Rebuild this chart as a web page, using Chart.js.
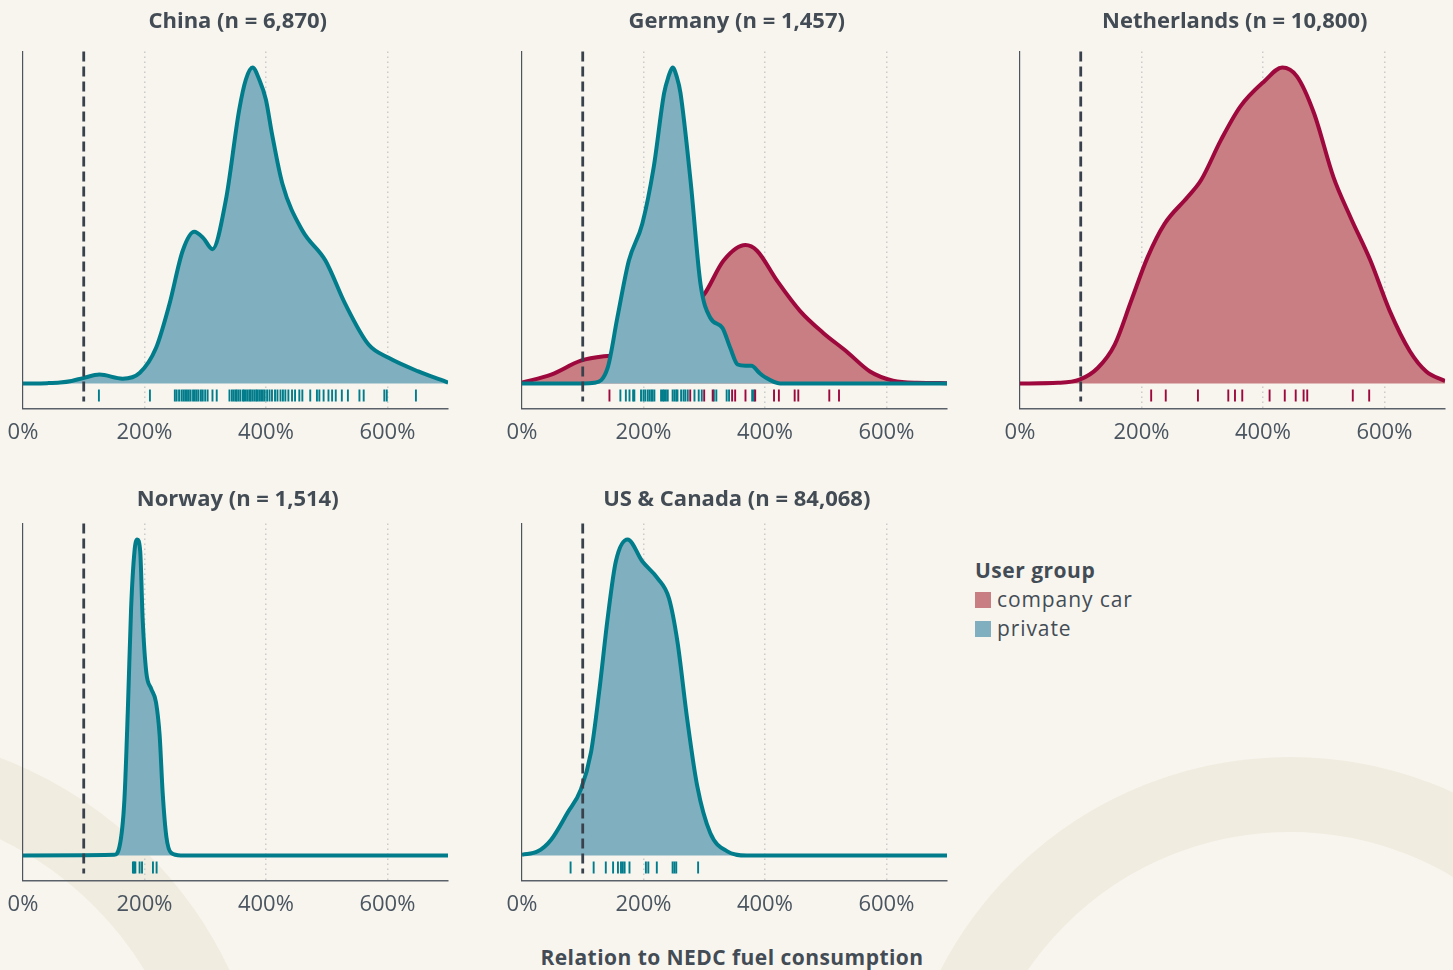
<!DOCTYPE html>
<html>
<head>
<meta charset="utf-8">
<script src="https://cdn.jsdelivr.net/npm/chart.js@4.4.1/dist/chart.umd.min.js"></script>
<style>
  body { margin: 0; width: 1453px; height: 970px; background: #f8f5ef; position: relative; overflow: hidden;
         font-family: "Open Sans", sans-serif; color: #434c55; }
  .ring { position: absolute; border-radius: 50%; border-style: solid; border-color: #f1ece0; box-sizing: border-box; }
  canvas { position: absolute; }
  #axisTitle { position: absolute; left: 432px; width: 600px; top: 943px; text-align: center; font-weight: 700; font-size: 21px; letter-spacing: 0.45px; line-height: 28px; }
  #legend { position: absolute; left: 975px; top: 555px; font-size: 21px; letter-spacing: 0.9px; line-height: 29px; }
  #legend .head { font-weight: 700; letter-spacing: 0.5px; line-height: 30px; }
  #legend .item { display: flex; align-items: center; }
  #legend .sw { width: 16px; height: 16px; margin-right: 6px; }
</style>
</head>
<body>
<div class="ring" style="left:897px; top:757px; width:786px; height:786px; border-width:75px;"></div>
<div class="ring" style="left:-570px; top:730px; width:840px; height:840px; border-width:75px;"></div>

<canvas id="china" width="456" height="460" style="left:0px; top:0px"></canvas>
<canvas id="germany" width="456" height="460" style="left:499px; top:0px"></canvas>
<canvas id="netherlands" width="456" height="460" style="left:997px; top:0px"></canvas>
<canvas id="norway" width="456" height="460" style="left:0px; top:472px"></canvas>
<canvas id="usca" width="456" height="460" style="left:499px; top:472px"></canvas>

<div id="legend">
  <div class="head">User group</div>
  <div class="item"><span class="sw" style="background:#c87e82"></span>company car</div>
  <div class="item"><span class="sw" style="background:#80b0bf"></span>private</div>
</div>
<div id="axisTitle">Relation to NEDC fuel consumption</div>

<script>
// x axis: relation to NEDC consumption in %
const xTicks = [0, 200, 400, 600];
const xMax = 700;
const nedcRef = 100;

// densities, scaled so each panel's highest peak = 1
const chinaX = [0, 40, 61, 80, 99, 126, 164, 192, 219, 241, 263, 282, 297, 312, 334, 356, 367, 378, 389, 400, 410, 427, 460, 498, 531, 569, 602, 651, 700];
const chinaPrivate = [0, 0.001, 0.003, 0.008, 0.017, 0.028, 0.015, 0.033, 0.112, 0.25, 0.42, 0.48, 0.46, 0.425, 0.58, 0.866, 0.962, 1.0, 0.962, 0.898, 0.79, 0.633, 0.484, 0.389, 0.25, 0.123, 0.081, 0.038, 0.003];

const germanyPrivX = [0, 100, 119, 141, 157, 176, 198, 217, 234, 241, 248, 255, 261, 278, 294, 310, 330, 343, 355, 368, 378, 390, 400, 425, 700];
const germanyPrivate = [0, 0, 0.002, 0.049, 0.208, 0.389, 0.505, 0.686, 0.919, 0.97, 1.0, 0.97, 0.919, 0.633, 0.314, 0.208, 0.176, 0.112, 0.06, 0.056, 0.056, 0.035, 0.02, 0, 0];
const germanyCompX = [0, 48, 97, 135, 165, 200, 240, 270, 288, 300, 332, 368, 387, 420, 458, 496, 534, 573, 611, 650, 700];
const germanyCompany = [0.003, 0.028, 0.072, 0.086, 0.09, 0.11, 0.16, 0.22, 0.26, 0.282, 0.389, 0.438, 0.42, 0.325, 0.229, 0.16, 0.102, 0.038, 0.009, 0.002, 0.001];

const netherlandsX = [0, 63, 98, 128, 156, 183, 210, 238, 276, 298, 331, 363, 402, 432, 456, 484, 516, 544, 577, 609, 642, 669, 700];
const netherlandsCompany = [0, 0.002, 0.012, 0.049, 0.123, 0.261, 0.399, 0.505, 0.59, 0.643, 0.771, 0.877, 0.956, 1.0, 0.972, 0.856, 0.654, 0.527, 0.389, 0.229, 0.102, 0.038, 0.008];

const norwayX = [0, 150, 159, 167, 172.7, 178, 183.6, 188, 193, 197, 203, 211, 219, 225, 230, 236, 244, 260, 700];
const norwayPrivate = [0, 0.002, 0.029, 0.177, 0.464, 0.782, 0.963, 1.0, 0.963, 0.75, 0.58, 0.528, 0.485, 0.38, 0.198, 0.06, 0.008, 0, 0];

const uscaX = [0, 26, 48, 75, 97, 113.6, 127, 141, 154.6, 174, 198, 223, 242, 256, 272, 288.5, 310, 338, 370, 700];
const uscaPrivate = [0.002, 0.013, 0.05, 0.135, 0.209, 0.326, 0.517, 0.75, 0.931, 1.0, 0.931, 0.878, 0.814, 0.676, 0.432, 0.22, 0.071, 0.013, 0, 0];

// rug marks (individual vehicles)
const chinaRug = [125, 209, 250, 253, 257, 261, 264, 267, 270, 273, 276, 280, 283, 286, 289, 293, 296, 300, 304, 312, 319,
  340, 344, 347, 350, 352, 355, 358, 362, 364, 367, 370, 373, 375, 378, 381, 384, 386, 389, 392, 395, 398, 402, 406, 410,
  415, 419, 424, 428, 432, 437, 443, 448, 455, 460, 473, 484, 488, 495, 503, 509, 515, 525, 535, 554, 561, 595, 599, 647];
const germanyRugPrivate = [162, 171, 177, 183, 185, 196, 200, 203, 207, 210, 213, 215, 218, 229, 232, 234, 237, 240, 248, 251,
  254, 256, 262, 266, 269, 273, 284, 291, 296, 316, 320, 337, 341, 379, 382];
const germanyRugCompany = [144, 277, 300, 314, 346, 351, 368, 384, 415, 423, 449, 455, 506, 522];
const netherlandsRug = [216, 240, 293, 343, 354, 366, 411, 436, 454, 467, 473, 548, 575];
const norwayRug = [181, 183, 185, 192, 196, 214, 220];
const uscaRug = [80, 118, 138, 150, 158, 163, 166, 169, 177, 204, 208, 222, 248, 251, 254, 290];

const groups = {
  private: { line: '#007c8b', fill: '#80b0bf' },
  company: { line: '#9d093d', fill: '#c87e82' }
};

const yMin = -0.0796, yMax = 1.051;
const rugY = -0.038;
const nedcBottom = -0.057;

function density(xs, ys, group, order) {
  return {
    data: xs.map((x, i) => ({ x: x, y: ys[i] })),
    borderColor: groups[group].line,
    backgroundColor: groups[group].fill,
    borderWidth: 4,
    fill: 'origin',
    pointRadius: 0,
    cubicInterpolationMode: 'monotone',
    order: order
  };
}

function rug(values, group) {
  return {
    data: values.map(v => ({ x: v, y: rugY })),
    showLine: false,
    pointStyle: 'line',
    rotation: 90,
    pointRadius: 6,
    pointBorderWidth: 1.9,
    pointBorderColor: groups[group].line,
    pointBackgroundColor: groups[group].line,
    borderColor: groups[group].line,
    order: 0
  };
}

const nedcPlugin = {
  id: 'nedc',
  afterDatasetsDraw(chart) {
    const { ctx, chartArea, scales } = chart;
    const px = scales.x.getPixelForValue(nedcRef);
    ctx.save();
    ctx.strokeStyle = '#39424c';
    ctx.lineWidth = 2.8;
    ctx.setLineDash([10, 5]);
    ctx.beginPath();
    ctx.moveTo(px, chartArea.top);
    ctx.lineTo(px, scales.y.getPixelForValue(nedcBottom));
    ctx.stroke();
    ctx.restore();
  }
};

function makePanel(id, title, datasets, row) {
  const titlePad = row === 1 ? { top: 9, bottom: 16 } : { top: 15, bottom: 10 };
  const canvas = document.getElementById(id);
  canvas.getContext('2d').letterSpacing = '0.6px';
  new Chart(canvas, {
    type: 'line',
    data: { datasets: datasets },
    plugins: [nedcPlugin],
    options: {
      responsive: false,
      animation: false,
      layout: { padding: { left: 23, right: 3.5, top: 0, bottom: 3 } },
      plugins: {
        legend: { display: false },
        tooltip: { enabled: false },
        title: {
          display: true,
          text: title,
          color: '#434c55',
          font: { family: 'Open Sans', size: 22, weight: 'bold', lineHeight: 1.2 },
          padding: titlePad
        }
      },
      scales: {
        x: {
          type: 'linear',
          min: 0,
          max: xMax,
          afterBuildTicks: axis => { axis.ticks = xTicks.map(v => ({ value: v })); },
          // the "0%" label may hang over the left edge; keep the plot area where the layout puts it
          afterFit: axis => { axis.paddingLeft = 0; axis.paddingRight = 0; },
          ticks: {
            callback: v => v + '%',
            color: '#4a5560',
            padding: 11,
            maxRotation: 0,
            font: { family: 'Open Sans', size: 22, lineHeight: 1.2 }
          },
          grid: {
            drawTicks: false,
            lineWidth: 1.5,
            color: c => (c.tick && c.tick.value === 0) ? 'rgba(0,0,0,0)' : '#cbcbcb'
          },
          border: { display: true, color: '#5b6168', width: 1.5, dash: [1.5, 3.5] }
        },
        y: {
          min: yMin,
          max: yMax,
          ticks: { display: false },
          grid: { display: false, drawTicks: false },
          border: { display: true, color: '#4d545c', width: 1.2 }
        }
      }
    }
  });
}

makePanel('china', 'China (n = 6,870)', [
  density(chinaX, chinaPrivate, 'private', 1),
  rug(chinaRug, 'private')
], 1);

makePanel('germany', 'Germany (n = 1,457)', [
  density(germanyPrivX, germanyPrivate, 'private', 1),
  density(germanyCompX, germanyCompany, 'company', 2),
  rug(germanyRugCompany, 'company'),
  rug(germanyRugPrivate, 'private')
], 1);

makePanel('netherlands', 'Netherlands (n = 10,800)', [
  density(netherlandsX, netherlandsCompany, 'company', 1),
  rug(netherlandsRug, 'company')
], 1);

makePanel('norway', 'Norway (n = 1,514)', [
  density(norwayX, norwayPrivate, 'private', 1),
  rug(norwayRug, 'private')
], 2);

makePanel('usca', 'US & Canada (n = 84,068)', [
  density(uscaX, uscaPrivate, 'private', 1),
  rug(uscaRug, 'private')
], 2);
</script>
</body>
</html>
